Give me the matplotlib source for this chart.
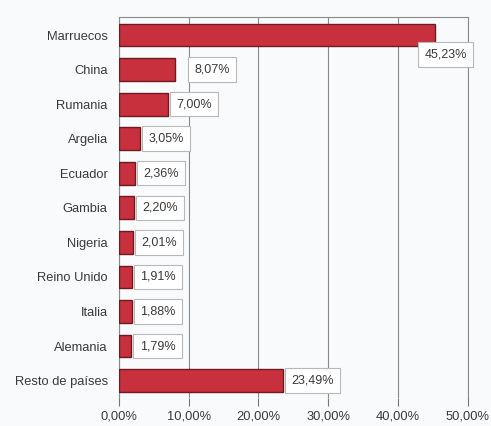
import matplotlib
matplotlib.use("Agg")
import matplotlib.pyplot as plt
from matplotlib.ticker import FuncFormatter

countries = ["Marruecos", "China", "Rumania", "Argelia", "Ecuador", "Gambia",
             "Nigeria", "Reino Unido", "Italia", "Alemania", "Resto de países"]
shares = [45.23, 8.07, 7.00, 3.05, 2.36, 2.20, 2.01, 1.91, 1.88, 1.79, 23.49]
xticks = [0, 10, 20, 30, 40, 50]

def pct(v, decimals=2):
    return f"{v:.{decimals}f}".replace(".", ",") + "%"

plt.rcParams["font.family"] = ["Liberation Sans", "DejaVu Sans"]
bg = "#f9fafc"
txt = "#3a3a3a"
fig = plt.figure(figsize=(4.91, 4.26), dpi=100, facecolor=bg)
ax = fig.add_axes([0.242, 0.066, 0.711, 0.894], facecolor=bg)

ypos = list(range(len(countries)))
ax.barh(ypos, shares, height=0.66, color="#c9303d", edgecolor="#6e1a22",
        linewidth=1.0, zorder=3)

ax.set_xlim(0, 50)
ax.set_ylim(len(countries) - 0.5, -0.52)
ax.set_xticks(xticks)
ax.xaxis.set_major_formatter(FuncFormatter(lambda v, _: pct(v)))
ax.set_yticks(ypos)
ax.set_yticklabels(countries)
ax.tick_params(axis="y", length=0, pad=8, labelsize=9.3, labelcolor=txt)
ax.tick_params(axis="x", length=6, direction="out", color="#777777",
               labelsize=9.3, labelcolor=txt, pad=3)
ax.grid(axis="x", color="#8a8a8a", linewidth=0.8, zorder=1)

for side in ["top", "left", "right"]:
    ax.spines[side].set_color("#8a8a8a")
    ax.spines[side].set_linewidth(0.8)
ax.spines["bottom"].set_visible(False)

box = dict(boxstyle="square,pad=0.5", facecolor="white",
           edgecolor="#b8b8b8", linewidth=0.8)
for i, (name, v) in enumerate(zip(countries, shares)):
    if i == 0:
        ax.annotate(pct(v), xy=(v, i), xytext=(8, -14), textcoords="offset points",
                    ha="center", va="center", fontsize=9, color=txt,
                    bbox=box, zorder=4)
    else:
        offset = 14 if name == "China" else 6
        ax.annotate(pct(v), xy=(v, i), xytext=(offset, 0), textcoords="offset points",
                    ha="left", va="center", fontsize=9, color=txt,
                    bbox=box, zorder=4)

fig.savefig("out.png", dpi=100, facecolor=bg)
